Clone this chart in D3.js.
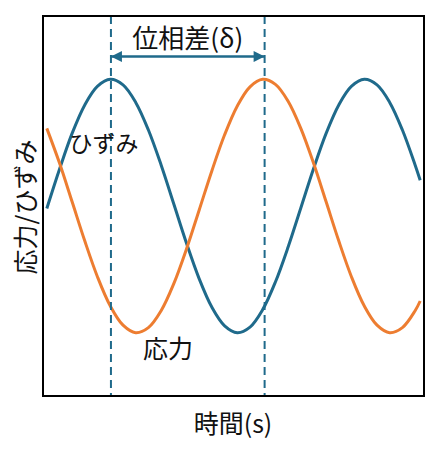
<!DOCTYPE html>
<html>
<head>
<meta charset="utf-8">
<script src="https://cdn.jsdelivr.net/npm/d3@7"></script>
<style>
  body { margin: 0; background: #fff; }
  text { font-family: "Noto Sans CJK JP", "Noto Sans", sans-serif; fill: #111; }
</style>
</head>
<body>
<div id="chart"></div>
<script>
// 時間 (s)
var times = [0.03, 0.13, 0.23, 0.33, 0.43, 0.53, 0.63, 0.73, 0.83, 0.93,
             1.03, 1.13, 1.23, 1.33, 1.43, 1.53, 1.63, 1.73, 1.83, 1.93,
             2.03, 2.13, 2.23, 2.33, 2.43, 2.53, 2.63, 2.73, 2.83, 2.93, 2.97];
// ひずみ
var strain = [-0.02, 0.29, 0.575, 0.80, 0.946, 1.00, 0.956, 0.818, 0.60, 0.324,
              0.016, -0.294, -0.575, -0.80, -0.946, -1.00, -0.956, -0.818, -0.60, -0.324,
              -0.016, 0.294, 0.575, 0.80, 0.946, 1.00, 0.956, 0.818, 0.60, 0.324, 0.203];
// 応力
var stress = [0.613, 0.339, 0.031, -0.279, -0.562, -0.790, -0.941, -1.00, -0.960, -0.827,
              -0.613, -0.339, -0.031, 0.279, 0.562, 0.790, 0.941, 1.00, 0.960, 0.827,
              0.613, 0.339, 0.031, -0.279, -0.562, -0.790, -0.941, -1.00, -0.960, -0.827, -0.750];
// 位相差を示す時刻 (ひずみ・応力のピーク)
var peakTimes = [0.535, 1.745];

var width = 440, height = 456;
var margin = {top: 16, right: 16, bottom: 60, left: 43};

var x = d3.scaleLinear()
    .domain([0, 3])
    .range([margin.left, width - margin.right]);
var y = d3.scaleLinear()
    .domain([-1.5, 1.5])
    .range([height - margin.bottom, margin.top]);

var blue = "#1f6a8b", orange = "#ed7d31";

var svg = d3.select("#chart").append("svg")
    .attr("width", width)
    .attr("height", height);

var defs = svg.append("defs");
["start", "end"].forEach(function(k){
    defs.append("marker")
        .attr("id", "arrow-" + k)
        .attr("viewBox", "0 0 10 10")
        .attr("refX", 10).attr("refY", 5)
        .attr("markerWidth", 5).attr("markerHeight", 4.4)
        .attr("markerUnits", "strokeWidth")
        .attr("orient", k == "start" ? "auto-start-reverse" : "auto")
        .append("path")
        .attr("d", "M0,0L10,5L0,10Z")
        .attr("fill", blue);
});

var line = d3.line()
    .x(d => x(d[0]))
    .y(d => y(d[1]))
    .curve(d3.curveCatmullRom);

svg.append("path")
    .datum(d3.zip(times, strain))
    .attr("d", line)
    .attr("fill", "none")
    .attr("stroke", blue)
    .attr("stroke-width", 3);

svg.append("path")
    .datum(d3.zip(times, stress))
    .attr("d", line)
    .attr("fill", "none")
    .attr("stroke", orange)
    .attr("stroke-width", 3);

// dashed peak markers
svg.selectAll("line.peak").data(peakTimes)
    .enter().append("line")
    .attr("class", "peak")
    .attr("x1", d => x(d)).attr("x2", d => x(d))
    .attr("y1", y.range()[1]).attr("y2", y.range()[0])
    .attr("stroke", blue)
    .attr("stroke-width", 2)
    .attr("stroke-dasharray", "8,5");

// phase difference arrow
var arrowY = y(1.18);
svg.append("line")
    .attr("x1", x(peakTimes[0])).attr("x2", x(peakTimes[1]))
    .attr("y1", arrowY).attr("y2", arrowY)
    .attr("stroke", blue)
    .attr("stroke-width", 2.5)
    .attr("marker-start", "url(#arrow-start)")
    .attr("marker-end", "url(#arrow-end)");

svg.append("text")
    .attr("x", (x(peakTimes[0]) + x(peakTimes[1])) / 2)
    .attr("y", 48)
    .attr("text-anchor", "middle")
    .style("font-size", "26px")
    .text("位相差(δ)");

// frame
svg.append("rect")
    .attr("x", x.range()[0]).attr("y", y.range()[1])
    .attr("width", x.range()[1] - x.range()[0])
    .attr("height", y.range()[0] - y.range()[1])
    .attr("fill", "none")
    .attr("stroke", "#000")
    .attr("stroke-width", 2);

svg.append("text")
    .attr("x", 104).attr("y", 152)
    .attr("text-anchor", "middle")
    .style("font-size", "23px")
    .text("ひずみ");

svg.append("text")
    .attr("x", 168).attr("y", 358)
    .attr("text-anchor", "middle")
    .style("font-size", "25px")
    .text("応力");

svg.append("text")
    .attr("x", 233).attr("y", 433)
    .attr("text-anchor", "middle")
    .style("font-size", "25px")
    .text("時間(s)");

svg.append("text")
    .attr("transform", "translate(35,207) rotate(-90)")
    .attr("text-anchor", "middle")
    .style("font-size", "25px")
    .text("応力/ひずみ");

console.log("done");
</script>
</body>
</html>
